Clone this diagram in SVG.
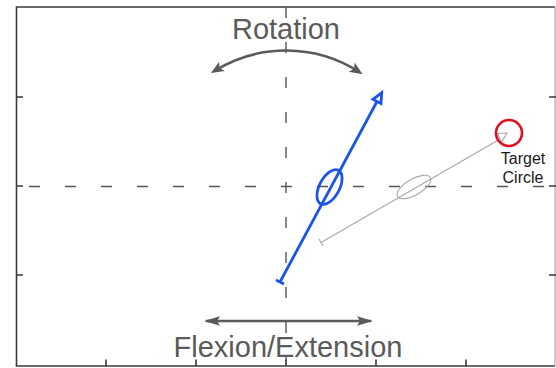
<svg xmlns="http://www.w3.org/2000/svg" width="556" height="368" viewBox="0 0 556 368">
<defs>
<style>
.frame{fill:none;stroke:#3a3a3a;stroke-width:1.6}
.tick{stroke:#3a3a3a;stroke-width:1.6}
.dash{stroke:#555;stroke-width:1.4;fill:none}
.conn{fill:none;stroke:#5a5a5a;stroke-width:2.6}
.lbl{font-family:"Liberation Sans",Arial,sans-serif;fill:#5a5a5a;font-size:29px;text-anchor:middle}
.small{font-family:"Liberation Sans",Arial,sans-serif;fill:#1a1a1a;font-size:16px;text-anchor:middle}
.blue{fill:none;stroke:#1a55e6;stroke-width:2.8;stroke-linejoin:miter}
.grey{fill:none;stroke:#a8a8a8;stroke-width:1.1}
</style>
<marker id="hRot" markerUnits="userSpaceOnUse" markerWidth="20" markerHeight="20" refX="0" refY="0" viewBox="-14 -7 20 14" orient="auto-start-reverse" overflow="visible">
<path d="M5,0 L-8,-5.5 L-5,0 L-8,5.5 Z" fill="#5a5a5a"/>
</marker>
<marker id="hFlex" markerUnits="userSpaceOnUse" markerWidth="24" markerHeight="14" refX="0" refY="0" viewBox="-18 -7 24 14" orient="auto-start-reverse" overflow="visible">
<path d="M2,0 L-14,-4.8 L-11,0 L-14,4.8 Z" fill="#5a5a5a"/>
</marker>
</defs>
<rect width="556" height="368" fill="#ffffff"/>
<g id="axes">
<path class="frame" d="M555,7 H16.5 V366 H555"/>
<line x1="555" y1="7" x2="555" y2="366" stroke="#9a9a9a" stroke-width="1"/>
<path class="tick" d="M16.5,97 H23 M16.5,186 H23 M16.5,275 H23 M549,97 H556 M549,186 H556 M549,275 H556 M106,366 V359.5 M196,366 V359.5 M286,366 V359.5 M376,366 V359.5 M466,366 V359.5"/>
</g>
<g id="crosshair">
<line class="dash" x1="286" y1="7" x2="286" y2="366" stroke-dasharray="11 24"/>
<line class="dash" x1="17" y1="186.5" x2="555" y2="186.5" stroke-dasharray="11 25" stroke-dashoffset="24"/>
</g>
<g id="rotation-label"><text class="lbl" x="286" y="38.5">Rotation</text></g>
<g id="flexion-label"><text class="lbl" x="288" y="356.5">Flexion/Extension</text></g>
<g id="connectors">
<path class="conn" d="M215.2,70.5 A135.5,135.5 0 0 1 358.4,71.5" marker-start="url(#hRot)" marker-end="url(#hRot)"/>
<line class="conn" x1="206" y1="321" x2="371" y2="321" marker-start="url(#hFlex)" marker-end="url(#hFlex)"/>
</g>
<g id="grey-vector">
<line class="grey" x1="321" y1="242.5" x2="497.5" y2="140.5"/>
<line class="grey" x1="323" y1="246" x2="319" y2="239"/>
<ellipse class="grey" cx="414" cy="187" rx="19" ry="8" transform="rotate(-30 414 187)"/>
<polygon class="grey" points="497.5,133.5 507,133 501.5,142"/>
</g>
<g id="blue-vector">
<line class="blue" x1="280" y1="282" x2="377" y2="101.5"/>
<line class="blue" x1="284" y1="284.1" x2="276" y2="279.9"/>
<ellipse class="blue" cx="329.5" cy="187" rx="19" ry="10" transform="rotate(-62 329.5 187)"/>
<polygon class="blue" points="381.7,92.7 381,103.6 373,99.4"/>
</g>
<g id="target-circle">
<circle cx="509" cy="133" r="13" fill="none" stroke="#dd1122" stroke-width="2.6"/>
<text class="small" x="523" y="164">Target</text>
<text class="small" x="523" y="183">Circle</text>
</g>
</svg>
